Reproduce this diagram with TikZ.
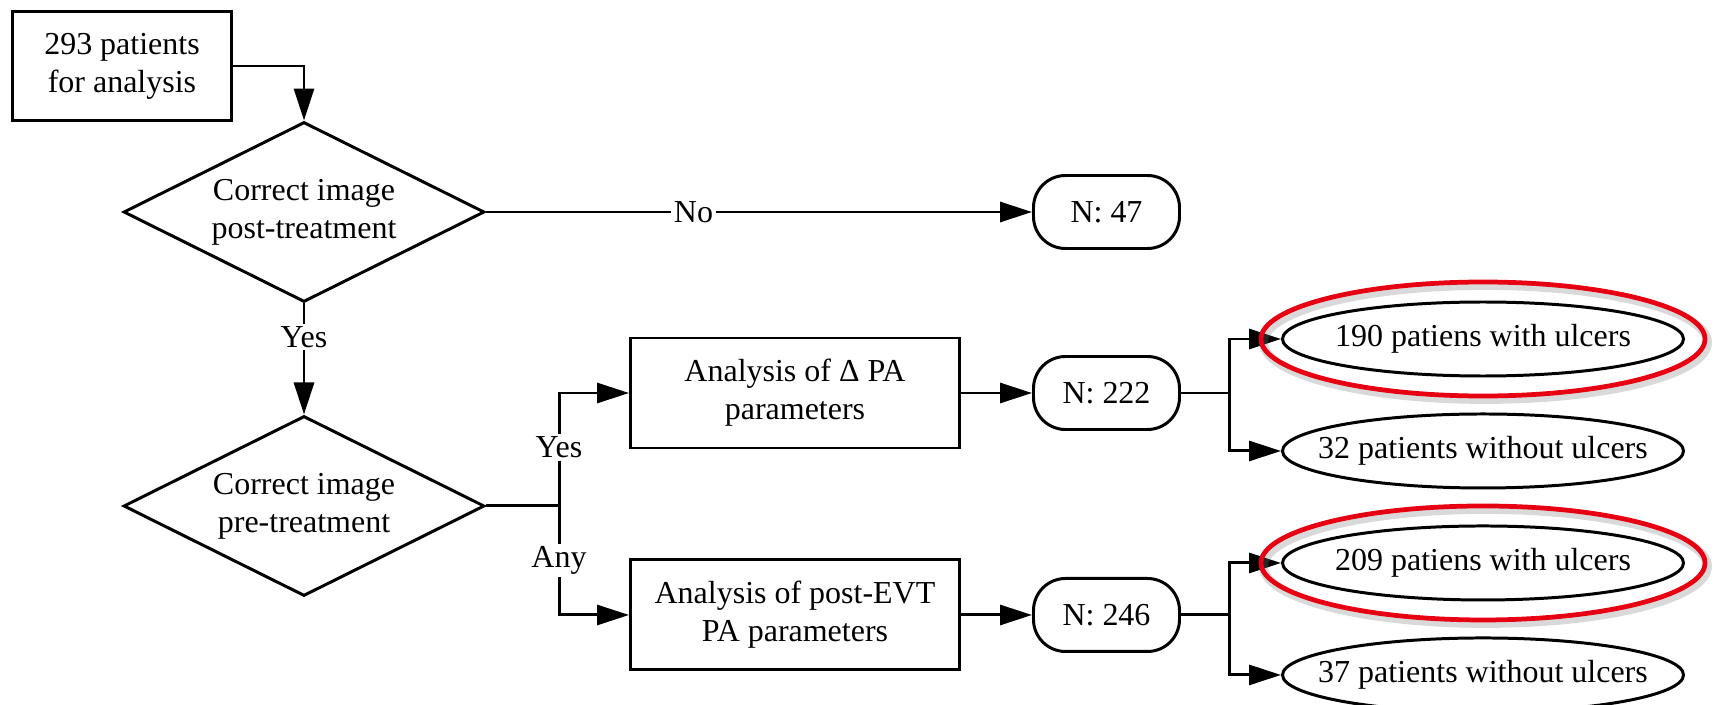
\documentclass[tikz,border=0pt]{standalone}
\usepackage{fontspec}
\setmainfont{Liberation Serif}
\usetikzlibrary{arrows.meta, positioning, shapes.geometric, calc}
\definecolor{ringRed}{HTML}{E60012}

\begin{document}
\begin{tikzpicture}[
  font=\fontsize{18.2}{21.6}\selectfont,
  line width=1.7pt,
  box/.style={draw, minimum height=2.2cm, minimum width=6.58cm, align=center, inner sep=0pt},
  decision/.style={draw, diamond, aspect=2, minimum width=7.22cm, minimum height=3.6cm, align=center, inner sep=0pt},
  count/.style={draw, rounded corners=0.64cm, minimum width=2.92cm, minimum height=1.46cm, inner sep=0pt},
  outcome/.style={minimum width=8.02cm, minimum height=1.48cm, inner sep=0pt},
  lbl/.style={fill=white, inner sep=1.5pt},
  arr/.style={-{Triangle[length=0.64cm, width=0.4cm]}},
  ring/.style={draw=ringRed, line width=2.7pt}
]
  \useasboundingbox (0,0) rectangle (34.5,14.08);

  \node[box, minimum width=4.38cm, minimum height=2.18cm] (start) at (2.44,12.76) {293 patients\\for analysis};
  \node[decision] (post) at (6.08,9.84) {Correct image\\post-treatment};
  \node[decision, below=2.22cm of post] (pre) {Correct image\\pre-treatment};

  \node[box] (delta) at (15.9,6.22) {Analysis of Δ PA\\parameters};
  \node[box, below=2.18cm of delta] (evt) {Analysis of post-EVT\\PA parameters};

  \node[count, right=1.42cm of delta] (n222) {N: 222};
  \node[count, right=1.42cm of evt] (n246) {N: 246};
  \node[count] (n47) at (n222 |- post) {N: 47};

  % outcomes per group, ellipse outlines drawn below
  \node[outcome] (ulc190) at (29.66,7.3) {190 patiens with ulcers};
  \node[outcome, below=0.7cm of ulc190] (no32) {32 patients without ulcers};
  \node[outcome, below=0.7cm of no32] (ulc209) {209 patiens with ulcers};
  \node[outcome, below=0.7cm of ulc209] (no37) {37 patients without ulcers};
  \foreach \n in {ulc190, no32, ulc209, no37}
    \draw (\n) ellipse (4.01cm and 0.74cm);

  \coordinate (split) at (11.18,0 |- pre.east);
  \coordinate (fork1) at (24.58,0 |- n222.east);
  \coordinate (fork2) at (24.58,0 |- n246.east);

  \draw[arr] (start.east) -| (post.north);
  \draw[arr] (post.east) -- node[lbl, pos=0.38] {No} (n47.west);
  \draw[arr] (post.south) -- node[lbl, pos=0.3] {Yes} (pre.north);

  \draw (pre.east) -- (split);
  \draw[arr] (split) |- node[lbl, pos=0.26] {Yes} (delta.west);
  \draw[arr] (split) |- node[lbl, pos=0.25] {Any} (evt.west);

  \draw[arr] (delta) -- (n222);
  \draw[arr] (evt) -- (n246);

  \draw (n222.east) -- (fork1);
  \draw[arr] (fork1) |- (ulc190.west);
  \draw[arr] (fork1) |- (no32.west);
  \draw (n246.east) -- (fork2);
  \draw[arr] (fork2) |- (ulc209.west);
  \draw[arr] (fork2) |- (no37.west);

  % highlight rings
  \foreach \n in {ulc190, ulc209} {
    \draw[gray, opacity=0.3, line width=5pt] ($(\n)+(0.05,-0.07)$) ellipse (4.44cm and 1.14cm);
    \draw[ring] (\n) ellipse (4.44cm and 1.14cm);
  }
\end{tikzpicture}
\end{document}
